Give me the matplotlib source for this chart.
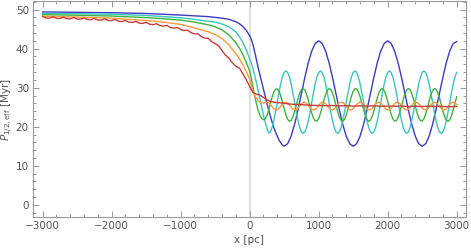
import matplotlib
matplotlib.use("Agg")
import matplotlib.pyplot as plt
from matplotlib.ticker import MultipleLocator

# shared sample positions (pc)
x_left = [-3000, -2500, -2000, -1500, -1250, -1000, -800, -600, -500, -400, -300, -200, -150, -100, -50]
x_fine = [0, 25, 50, 75, 100, 125, 150, 175, 200, 225, 250, 275, 300, 325, 350, 375, 400, 425, 450, 475,
          500, 525, 550, 575, 600, 625, 650, 675, 700, 725, 750, 775, 800, 825, 850, 875, 900, 925, 950, 975,
          1000, 1025, 1050, 1075, 1100, 1125, 1150, 1175, 1200, 1225, 1250, 1275, 1300, 1325, 1350, 1375,
          1400, 1425, 1450, 1475, 1500, 1525, 1550, 1575, 1600, 1625, 1650, 1675, 1700, 1725, 1750, 1775,
          1800, 1825, 1850, 1875, 1900, 1925, 1950, 1975, 2000, 2025, 2050, 2075, 2100, 2125, 2150, 2175,
          2200, 2225, 2250, 2275, 2300, 2325, 2350, 2375, 2400, 2425, 2450, 2475, 2500, 2525, 2550, 2575,
          2600, 2625, 2650, 2675, 2700, 2725, 2750, 2775, 2800, 2825, 2850, 2875, 2900, 2925, 2950, 2975, 3000]
x_blue_right = [0, 25, 50, 75, 100, 125, 150, 175, 200, 225, 250, 275, 300, 325, 350, 375, 400, 425, 450, 475, 500,
                550, 600, 650, 700, 750, 800, 850, 900, 950, 1000, 1050, 1100, 1150, 1200, 1250, 1300, 1350,
                1400, 1450, 1500, 1550, 1600, 1650, 1700, 1750, 1800, 1850, 1900, 1950, 2000, 2050, 2100,
                2150, 2200, 2250, 2300, 2350, 2400, 2450, 2500, 2550, 2600, 2650, 2700, 2750, 2800, 2850,
                2900, 2950, 3000]
x_red = [-3000, -2950, -2900, -2850, -2800, -2750, -2700, -2650, -2600, -2550, -2500, -2450, -2400, -2350,
         -2300, -2250, -2200, -2150, -2100, -2050, -2000, -1950, -1900, -1850, -1800, -1750, -1700, -1650,
         -1600, -1550, -1500, -1450, -1400, -1350, -1300, -1250, -1200, -1150, -1100, -1050, -1000, -950,
         -900, -850, -800, -750, -700, -650, -600, -550, -500, -450, -400, -350, -300, -250, -200, -150,
         -100, -50, 0, 25, 50, 75, 100, 150, 200, 250, 300, 350, 400, 450, 500, 600, 700, 800, 900, 1000,
         1100, 1200, 1300, 1400, 1500, 1600, 1700, 1800, 1900, 2000, 2100, 2200, 2300, 2400, 2500, 2600,
         2700, 2800, 2900, 3000]

# P_1/2,eff [Myr]
blue = [49.4, 49.3, 49.2, 49.0, 48.8, 48.6, 48.4, 48.2, 48.0, 47.8, 47.5, 46.9, 46.4, 45.7, 44.7,
        43.3, 42.3, 40.9, 39.0, 37.0, 35.0, 33.2, 31.4, 29.6, 27.8, 26.0, 24.3, 22.7, 21.2, 19.8, 18.6,
        17.6, 16.6, 15.9, 15.3, 15.05,
        15.66, 17.58, 20.56, 24.33, 28.5, 32.67, 36.44, 39.42, 41.34, 42.0,
        41.34, 39.42, 36.44, 32.67, 28.5, 24.33, 20.56, 17.58, 15.66, 15.0,
        15.66, 17.58, 20.56, 24.33, 28.5, 32.67, 36.44, 39.42, 41.34, 42.0,
        41.34, 39.42, 36.44, 32.67, 28.5, 24.33, 20.56, 17.58, 15.66, 15.0,
        15.66, 17.58, 20.56, 24.33, 28.5, 32.67, 36.44, 39.42, 41.3, 41.8]

cyan = [49.0, 48.95, 48.8, 48.5, 48.2, 47.9, 47.5, 47.0, 46.8, 46.3, 45.6, 44.3, 43.1, 41.6, 39.7,
        37.4, 36.2, 34.7, 33.0, 31.1, 29.1, 27.0, 25.0, 23.0, 21.2, 19.6, 18.4,
        18.69, 19.83, 21.6, 23.83, 26.3, 28.77, 31.0, 32.77, 33.91, 34.3,
        33.91, 32.77, 31.0, 28.77, 26.3, 23.83, 21.6, 19.83, 18.69, 18.3,
        18.69, 19.83, 21.6, 23.83, 26.3, 28.77, 31.0, 32.77, 33.91, 34.3,
        33.91, 32.77, 31.0, 28.77, 26.3, 23.83, 21.6, 19.83, 18.69, 18.3,
        18.69, 19.83, 21.6, 23.83, 26.3, 28.77, 31.0, 32.77, 33.91, 34.3,
        33.91, 32.77, 31.0, 28.77, 26.3, 23.83, 21.6, 19.83, 18.69, 18.3,
        18.69, 19.83, 21.6, 23.83, 26.3, 28.77, 31.0, 32.77, 33.91, 34.3,
        33.91, 32.77, 31.0, 28.77, 26.3, 23.83, 21.6, 19.83, 18.69, 18.3,
        18.69, 19.83, 21.6, 23.83, 26.3, 28.77, 31.0, 32.77, 33.91, 34.3,
        33.91, 32.77, 31.0, 28.77, 26.3, 23.83, 21.6, 19.83, 18.69, 18.3,
        18.69, 19.83, 21.6, 23.83, 26.3, 28.77, 31.0, 32.77, 33.91]

green = [48.7, 48.55, 48.35, 47.95, 47.65, 47.3, 46.8, 46.1, 45.6, 44.8, 43.5, 41.5, 40.2, 38.5, 36.5,
         34.3, 32.3, 30.0, 27.8, 25.8, 24.1, 22.9, 22.1, 21.8, 22.0, 22.8, 24.2, 25.9, 27.6, 28.9, 29.6,
         29.74, 29.12, 27.92, 26.32, 24.61, 23.06, 21.93, 21.42, 21.60, 22.45, 23.83, 25.50, 27.18, 28.61,
         29.53, 29.80, 29.36, 28.30, 26.79, 25.08, 23.46, 22.19, 21.50, 21.48, 22.15, 23.40, 25.01, 26.73,
         28.25, 29.33, 29.79, 29.55, 28.65, 27.25, 25.57, 23.89, 22.50, 21.63, 21.41, 21.90, 23.00, 24.54,
         26.25, 27.86, 29.08, 29.73, 29.69, 28.97, 27.68, 26.05, 24.34, 22.85, 21.81, 21.40, 21.70, 22.64,
         24.08, 25.77, 27.43, 28.79, 29.62, 29.77, 29.23, 28.09, 26.53, 24.81, 23.23, 22.04, 21.45, 21.54,
         22.32, 23.64, 25.29, 26.99, 28.46, 29.45, 29.80, 29.45, 28.46, 26.99, 25.29, 23.64, 22.32, 21.55,
         21.45, 22.04, 23.23, 24.81, 26.52, 28.08, 29.23, 29.77, 29.62, 28.79, 27.44, 25.77, 24.08, 22.64,
         21.70, 21.40, 21.81, 22.84, 24.34, 26.05, 27.68]

orange = [48.3, 48.1, 47.8, 47.2, 46.8, 46.2, 45.3, 44.3, 43.6, 42.6, 40.9, 38.7, 37.5, 35.9, 34.1,
          32.2, 30.4, 28.9, 27.8, 27.3, 26.7, 26.3, 26.1, 26.1, 26.2,
          26.30, 26.14, 25.70, 25.13, 24.61, 24.33, 24.36, 24.70, 25.24, 25.80,
          26.19, 26.29, 26.07, 25.59, 25.01, 24.53, 24.31, 24.41, 24.80, 25.36,
          25.90, 26.24, 26.27, 25.99, 25.47, 24.90, 24.46, 24.30, 24.46, 24.90,
          25.47, 25.99, 26.27, 26.24, 25.90, 25.36, 24.80, 24.41, 24.31, 24.53,
          25.01, 25.59, 26.07, 26.29, 26.19, 25.80, 25.24, 24.70, 24.36, 24.33,
          24.61, 25.13, 25.70, 26.14,
          26.30, 26.14, 25.70, 25.13, 24.61, 24.33, 24.36, 24.70, 25.24, 25.80,
          26.19, 26.29, 26.07, 25.59, 25.01, 24.53, 24.31, 24.41, 24.80, 25.36,
          25.90, 26.24, 26.27, 25.99, 25.47, 24.90, 24.46, 24.30, 24.46, 24.90,
          25.47, 25.99, 26.27, 26.24, 25.90, 25.36, 24.80, 24.41, 24.31, 24.53,
          25.01, 25.59, 26.07, 26.29, 26.19, 25.80, 25.24, 24.70, 24.36, 24.33,
          24.61, 25.13, 25.70, 26.14,
          26.30, 26.14, 25.70]

red = [48.25, 47.85, 47.82, 48.16, 47.76, 47.73, 48.07, 47.67, 47.64, 47.98, 47.58, 47.54, 47.87, 47.46,
       47.42, 47.75, 47.34, 47.30, 47.63, 47.22, 47.18, 47.47, 47.02, 46.94, 47.23, 46.78, 46.70, 46.99,
       46.54, 46.46, 46.75, 46.26, 46.14, 46.39, 45.90, 45.78, 45.97, 45.42, 45.24, 45.43, 44.88, 44.63,
       44.75, 44.08, 43.78, 43.80, 43.08, 42.68, 42.65, 41.78, 41.28, 40.75, 39.48, 38.33, 37.55, 36.33,
       35.48, 35.05, 33.58, 32.08,
       30.3, 29.4, 28.8, 28.5, 28.35, 28.1, 27.5, 26.9, 26.5, 26.3, 26.2, 26.1, 26.0, 25.8, 25.7, 25.6,
       25.5, 25.45, 25.4, 25.45, 25.35, 25.4, 25.3, 25.35, 25.3, 25.35, 25.25, 25.3, 25.25, 25.3, 25.2,
       25.25, 25.2, 25.25, 25.2, 25.2, 25.15, 25.2]

plt.rcParams['font.family'] = ['DejaVu Sans']
plt.rcParams['mathtext.fontset'] = 'dejavusans'

fig = plt.figure(figsize=(4.71, 2.5), dpi=100)
ax = fig.add_axes([33 / 471, 33 / 250, 433 / 471, 216 / 250])

ax.axvline(0, color='#dcdcdc', lw=1.3, zorder=1)

ax.plot(x_left + x_blue_right, blue, color='#3b3bc4', lw=1.0, zorder=3)
ax.plot(x_left + x_fine, cyan, color='#3cc3c3', lw=1.0, zorder=3)
ax.plot(x_left + x_fine, green, color='#3cb43c', lw=1.0, zorder=3)
ax.plot(x_left + x_fine, orange, color='#ff9a3c', lw=1.0, zorder=3)
ax.plot(x_red, red, color='#c83c3c', lw=1.0, zorder=3)

ax.set_xlim(-3140, 3135)
ax.set_ylim(-3.1, 52.2)
ax.xaxis.set_major_locator(MultipleLocator(1000))
ax.xaxis.set_minor_locator(MultipleLocator(200))
ax.yaxis.set_major_locator(MultipleLocator(10))
ax.yaxis.set_minor_locator(MultipleLocator(2))

frame_col = '#999999'
for s in ax.spines.values():
    s.set_color(frame_col)
    s.set_linewidth(0.8)
ax.tick_params(which='both', direction='in', top=True, right=True, color=frame_col,
               labelcolor='#555555', labelsize=7.5, width=0.7)
ax.tick_params(which='major', length=4, pad=3)
ax.tick_params(which='minor', length=2)

ax.set_xlabel('x [pc]', fontsize=7.5, color='#555555', labelpad=3)
ax.set_ylabel(r'$P_{1/2,\mathrm{eff}}$ [Myr]', fontsize=7.5, color='#555555')
ax.yaxis.set_label_coords(-0.041, 0.5)

fig.savefig('out.png', dpi=100)
